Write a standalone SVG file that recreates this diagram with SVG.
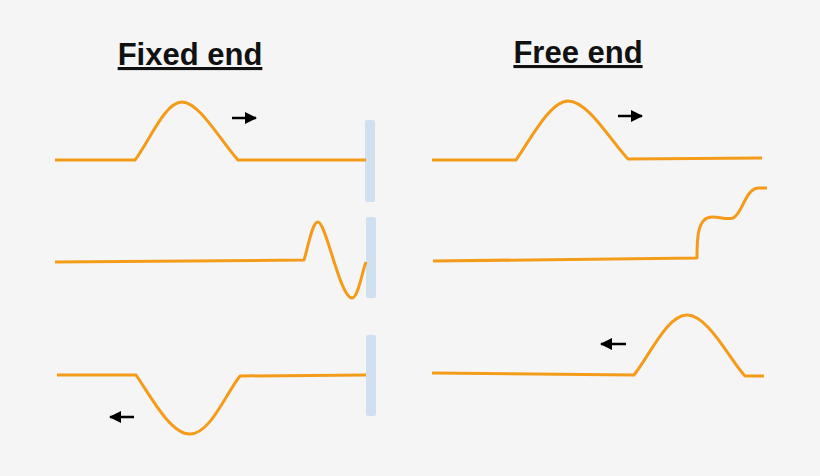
<svg xmlns="http://www.w3.org/2000/svg" width="820" height="476" viewBox="0 0 820 476">
<style>
.w{fill:none;stroke:#f59b1a;stroke-width:3;stroke-linejoin:round}
.bar{fill:#cfe0f1}
.t{font-family:"Liberation Sans",Arial,sans-serif;font-weight:bold;font-size:31px;text-decoration:underline;fill:#111}
.a{stroke:#000;stroke-width:2.5;fill:none}
</style>
<defs><marker id="ah" markerWidth="12" markerHeight="12" refX="11" refY="6" orient="auto" markerUnits="userSpaceOnUse"><path d="M0,0L12,6L0,12z" fill="#000"/></marker></defs>
<rect width="820" height="476" fill="#f5f5f5"/>
<g id="title-fixed"><text class="t" x="190" y="65" text-anchor="middle">Fixed end</text></g>
<g id="title-free"><text class="t" x="578" y="63" text-anchor="middle">Free end</text></g>
<g id="walls">
<rect class="bar" x="365" y="120" width="10" height="82" rx="2"/>
<rect class="bar" x="366" y="217" width="10" height="81" rx="2"/>
<rect class="bar" x="366" y="335" width="10" height="81" rx="2"/>
</g>
<g id="waves">
<path class="w" d="M55,160H135C150,140 165,102 182,102C199,102 220,140 238,160L366,160"/>
<path class="w" d="M55,262L304,260C308,248 312,222 318,222C326,222 340,298 352,298C358,298 362,272 366,262"/>
<path class="w" d="M57,375H136C150,395 170,434 190,434C210,434 225,395 240,376L366,375"/>
<path class="w" d="M432,160H516C530,140 550,101 568,101C588,101 610,140 628,159L762,158"/>
<path class="w" d="M433,261L697,258C697,240 697,217 712,217C722,217 725,220 733,218C742,215 745,189 758,188L767,188"/>
<path class="w" d="M432,373L634,375C650,355 667,315 687,315C708,315 730,360 745,376L764,376"/>
</g>
<g id="connectors">
<path class="a" d="M232,118H256" marker-end="url(#ah)"/>
<path class="a" d="M618,116H642" marker-end="url(#ah)"/>
<path class="a" d="M134,417H110" marker-end="url(#ah)"/>
<path class="a" d="M626,344H601" marker-end="url(#ah)"/>
</g>
</svg>
